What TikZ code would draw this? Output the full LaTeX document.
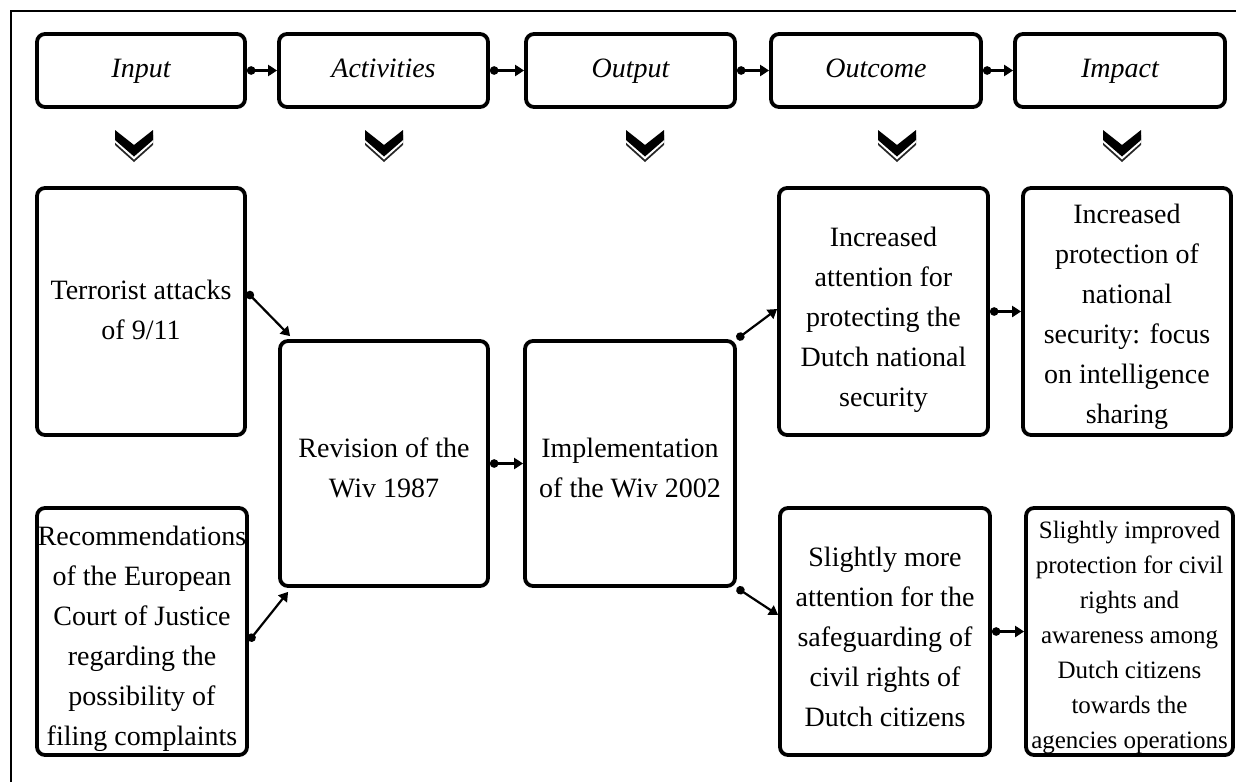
\documentclass[tikz,border=0pt]{standalone}
\usepackage{fontspec}
\setmainfont{Liberation Serif}
\usetikzlibrary{arrows.meta,calc}
\newcommand{\lowtx}[2][6pt]{\raisebox{-#1}[\height][\depth]{\begin{tabular}{@{}c@{}}#2\end{tabular}}}
\tikzset{
  bx/.style={draw, line width=3.8pt, rounded corners=8pt, inner sep=0pt, align=center,
    font=\fontsize{28}{40}\selectfont},
  hd/.style={bx, minimum height=73pt, text height=19pt, text depth=6pt,
    font=\fontsize{28}{34}\selectfont\itshape},
  smallbx/.style={bx, font=\fontsize{25}{35}\selectfont},
  conn/.style={line width=2.2pt, {Circle[length=8.5pt]}-{Triangle[length=9pt,width=11pt]}},
  chev/.pic={
    \fill[black!85] (-19,5)--(0,20)--(19,5)--(19,15)--(0,32)--(-19,15)--cycle;
    \fill[white] (-19,2.5)--(0,17.5)--(19,2.5)--(19,12.5)--(0,29.5)--(-19,12.5)--cycle;
    \fill[black] (-19,0)--(0,15)--(19,0)--(19,10)--(0,26.5)--(-19,10)--cycle;
  }
}
\begin{document}
\begin{tikzpicture}[x=1pt,y=-1pt]
\useasboundingbox (0,0) rectangle (1236,782);
\fill[white] (0,0) rectangle (1236,782);
\draw[line width=2pt] (10.5,782) -- (10.5,10.5) -- (1236,10.5);

% header boxes
\node[hd, minimum width=208pt] (hin)  at (141,70.5)   {Input};
\node[hd, minimum width=209pt] (hact) at (383.5,70.5) {Activities};
\node[hd, minimum width=209pt] (hout) at (630.5,70.5) {Output};
\node[hd, minimum width=210pt] (hoc)  at (876,70.5)   {Outcome};
\node[hd, minimum width=210pt] (himp) at (1120,70.5)  {Impact};

\draw[conn] (hin.east) -- (hact.west);
\draw[conn] (hact.east) -- (hout.west);
\draw[conn] (hout.east) -- (hoc.west);
\draw[conn] (hoc.east) -- (himp.west);

% chevrons
\pic at (134,130) {chev};
\pic at (384,130) {chev};
\pic at (645,130) {chev};
\pic at (897,130) {chev};
\pic at (1122,130) {chev};

% main boxes
\node[bx, minimum width=208pt, minimum height=247pt] (terr) at (141,311.5)
  {\lowtx[0pt]{Terrorist attacks\\of 9/11}};
\node[bx, minimum width=210pt, minimum height=247pt] (rec) at (142,631.5)
  {\lowtx[6pt]{Recommendations\\of the European\\Court of Justice\\regarding the\\possibility of\\filing complaints}};
\node[bx, minimum width=208pt, minimum height=245pt] (rev) at (384,463.5)
  {\lowtx[6pt]{Revision of the\\Wiv 1987}};
\node[bx, minimum width=210pt, minimum height=245pt] (impl) at (630,463.5)
  {\lowtx[6pt]{Implementation\\of the Wiv 2002}};
\node[bx, minimum width=209pt, minimum height=247pt] (att) at (883.5,311.5)
  {\lowtx[7pt]{Increased\\attention for\\protecting the\\Dutch national\\security}};
\node[bx, minimum width=210pt, minimum height=247pt] (more) at (885,631.5)
  {\lowtx[7pt]{Slightly more\\attention for the\\safeguarding of\\civil rights of\\Dutch citizens}};
\node[bx, minimum width=208pt, minimum height=247pt] (prot) at (1127,311.5)
  {\lowtx[4pt]{Increased\\protection of\\national\\security: focus\\on intelligence\\sharing}};
\node[smallbx, minimum width=207pt, minimum height=247pt] (imp) at (1129.5,631.5)
  {\lowtx[5pt]{Slightly improved\\protection for civil\\rights and\\awareness among\\Dutch citizens\\towards the\\agencies operations}};

% connectors
\draw[conn] ([yshift=19.5pt]terr.east) -- ([shift={(12pt,3pt)}]rev.north west);
\draw[conn] ([yshift=-9.5pt]rec.east) -- ([shift={(10pt,-4pt)}]rev.south west);
\draw[conn] (rev.east) -- (impl.west);
\draw[conn] (impl.north east) -- ([yshift=2.5pt]att.west);
\draw[conn] (impl.south east) -- ([yshift=16.5pt]more.west);
\draw[conn] (att.east) -- (prot.west);
\draw[conn] (more.east) -- (imp.west);
\end{tikzpicture}
\end{document}
